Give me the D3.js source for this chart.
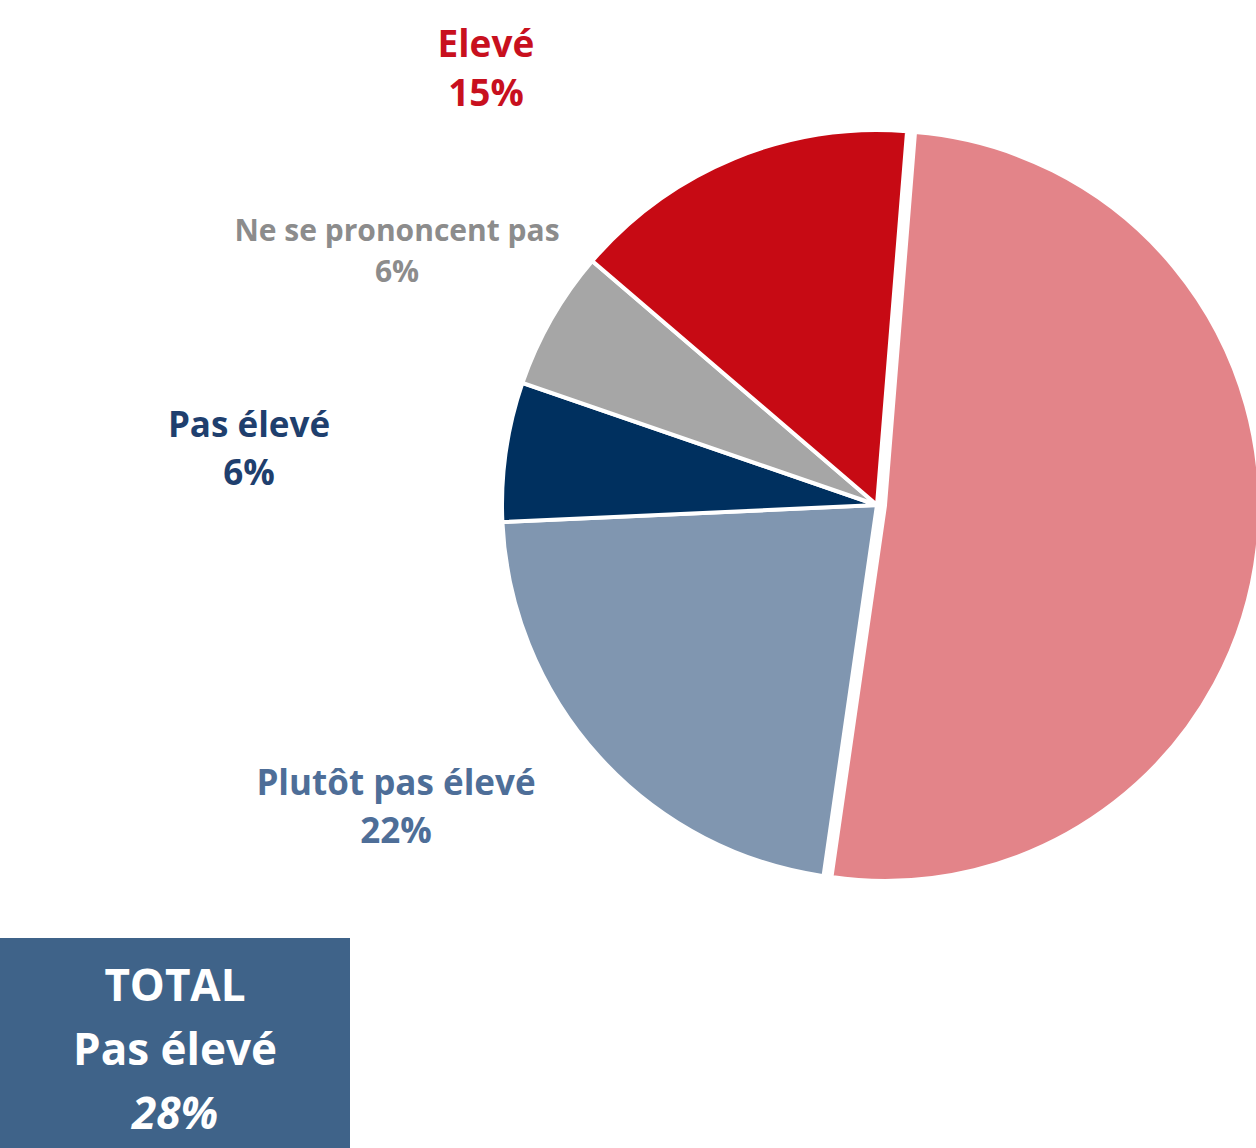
<!DOCTYPE html>
<html>
<head>
<meta charset="utf-8">
<script src="https://cdn.jsdelivr.net/npm/d3@7"></script>
<style>
  body { margin: 0; background: #fff; }
  svg { display: block; }
  text { font-family: "Open Sans", Lato, sans-serif; font-weight: bold; }
</style>
</head>
<body>
<div id="chart"></div>
<script>
// data, clockwise from just right of 12 o'clock
const categories = ["Plutôt élevé", "Plutôt pas élevé", "Pas élevé", "Ne se prononcent pas", "Elevé"];
const values = [51, 22, 6, 6, 15];
const sliceColors = ["#E38489", "#8096B0", "#00305F", "#A6A6A6", "#C70A14"];
const labelColors = ["#D9636B", "#4E6E98", "#1F3F6E", "#8C8C8C", "#C8101E"];
const totalLines = ["TOTAL", "Pas élevé", "28%"];

const width = 1256, height = 1148;
const cx = 877, cy = 505, radius = 375;
const explode = { "Plutôt élevé": 8 };

// label anchors (centre of first line) + font size, set by hand like in the original
const labelLayout = {
  "Elevé": { x: 486, y: 57, size: 37, gap: 49 },
  "Ne se prononcent pas": { x: 397, y: 241, size: 30, gap: 41 },
  "Pas élevé": { x: 249, y: 437, size: 35, gap: 48 },
  "Plutôt pas élevé": { x: 396, y: 795, size: 35, gap: 48 }
};

const svg = d3.select("#chart")
  .append("svg")
  .attr("width", width)
  .attr("height", height);

const pie = d3.pie()
  .sort(null)
  .value(d => d.value)
  .startAngle(4.6 * Math.PI / 180)
  .endAngle(4.6 * Math.PI / 180 + 2 * Math.PI);

const arc = d3.arc().innerRadius(0).outerRadius(radius);

const data = categories.map((c, i) => ({ name: c, value: values[i], color: sliceColors[i], labelColor: labelColors[i] }));
const arcs = pie(data);

const g = svg.append("g").attr("transform", `translate(${cx},${cy})`);

g.selectAll("path")
  .data(arcs)
  .join("path")
  .attr("d", arc)
  .attr("fill", d => d.data.color)
  .attr("stroke", "#fff")
  .attr("stroke-width", 4)
  .attr("stroke-linejoin", "miter")
  .attr("transform", d => {
    const off = explode[d.data.name] || 0;
    const mid = (d.startAngle + d.endAngle) / 2;
    return `translate(${off * Math.sin(mid)},${-off * Math.cos(mid)})`;
  });

// labels
const labels = svg.append("g")
  .selectAll("text")
  .data(arcs.filter(d => labelLayout[d.data.name]))
  .join("text")
  .attr("text-anchor", "middle")
  .attr("fill", d => d.data.labelColor)
  .style("font-size", d => labelLayout[d.data.name].size + "px");

labels.append("tspan")
  .attr("x", d => labelLayout[d.data.name].x)
  .attr("y", d => labelLayout[d.data.name].y)
  .text(d => d.data.name);

labels.append("tspan")
  .attr("x", d => labelLayout[d.data.name].x)
  .attr("y", d => labelLayout[d.data.name].y + labelLayout[d.data.name].gap)
  .text(d => d3.format(".0f")(d.data.value) + "%");

// total box
const box = svg.append("g");
box.append("rect")
  .attr("x", 0)
  .attr("y", 938)
  .attr("width", 350)
  .attr("height", 220)
  .attr("fill", "#3F6389");

box.selectAll("text")
  .data(totalLines)
  .join("text")
  .attr("x", 175)
  .attr("y", (d, i) => 1001 + i * 64)
  .attr("text-anchor", "middle")
  .attr("fill", "#fff")
  .style("font-size", "44px")
  .style("font-style", (d, i) => i === 2 ? "italic" : "normal")
  .text(d => d);
</script>
</body>
</html>
